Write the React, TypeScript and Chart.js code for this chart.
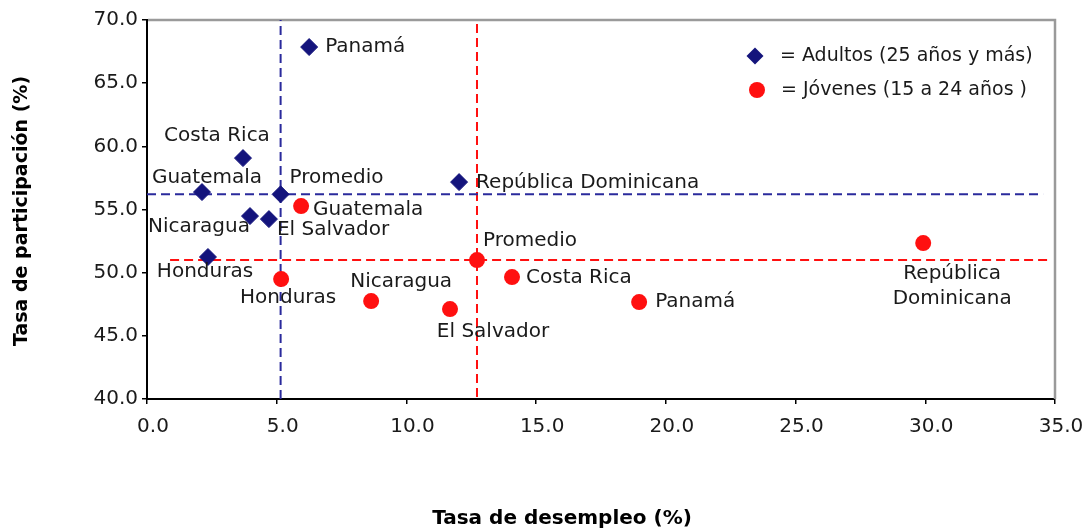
import React, { useEffect, useRef } from 'react';
import { Chart, registerables } from 'chart.js';

Chart.register(...registerables);

// ---------- data ----------
const adultCountries = ['Panamá', 'Costa Rica', 'Guatemala', 'Promedio', 'Nicaragua', 'El Salvador', 'Honduras', 'República Dominicana'];
const adultUnemployment = [6.25, 3.7, 2.12, 5.15, 3.97, 4.7, 2.35, 12.03];
const adultParticipation = [67.86, 59.07, 56.38, 56.2, 54.48, 54.24, 51.24, 57.17];

const youthCountries = ['Guatemala', 'Honduras', 'Nicaragua', 'El Salvador', 'Promedio', 'Costa Rica', 'Panamá', 'República Dominicana'];
const youthUnemployment = [5.94, 5.17, 8.64, 11.68, 12.72, 14.07, 18.97, 29.92];
const youthParticipation = [55.27, 49.49, 47.75, 47.12, 51.0, 49.65, 47.67, 52.34];

const xTicks = [0, 5, 10, 15, 20, 25, 30, 35];
const yTicks = [40, 45, 50, 55, 60, 65, 70];

const adultLegend = '= Adultos (25 años y más)';
const youthLegend = '= Jóvenes (15 a 24 años )';
const xTitle = 'Tasa de desempleo (%)';
const yTitle = 'Tasa de participación (%)';

// extents of the average (Promedio) reference lines
const adultAvgLineX = [0, 34.54];
const youthAvgLineX = [0.89, 34.73];
const adultAvgLineY = [40, 70];
const youthAvgLineY = [40.15, 69.9];

// ---------- label placement (pixel offsets from each point) ----------
type Place = { dx: number; dy: number; align: CanvasTextAlign; wrap?: boolean };
const adultPlace: Place[] = [
  { dx: 16, dy: 0, align: 'left' },
  { dx: -26, dy: -22, align: 'center' },
  { dx: 5, dy: -14, align: 'center' },
  { dx: 9, dy: -17, align: 'left' },
  { dx: -51, dy: 11, align: 'center' },
  { dx: 8, dy: 11, align: 'left' },
  { dx: -3, dy: 15, align: 'center' },
  { dx: 17, dy: 1, align: 'left' },
];
const youthPlace: Place[] = [
  { dx: 12, dy: 4, align: 'left' },
  { dx: 7, dy: 19, align: 'center' },
  { dx: 30, dy: -19, align: 'center' },
  { dx: 43, dy: 23, align: 'center' },
  { dx: 6, dy: -19, align: 'left' },
  { dx: 14, dy: 1, align: 'left' },
  { dx: 16, dy: 0, align: 'left' },
  { dx: 29, dy: 31, align: 'center', wrap: true },
];

const NAVY = '#14147c';
const NAVY_LINE = '#2a2a9c';
const RED = '#ff1010';
const FONT = 'DejaVu Sans';

const adultMean = adultCountries.indexOf('Promedio');
const youthMean = youthCountries.indexOf('Promedio');

export default function App() {
  const ref = useRef<HTMLCanvasElement | null>(null);

  useEffect(() => {
    const canvas = ref.current;
    if (!canvas) return;

    const annotate = {
      id: 'annotate',
      beforeDatasetsDraw(chart: any) {
        const { ctx, chartArea: a } = chart;
        ctx.save();
        ctx.strokeStyle = '#9a9a9a';
        ctx.lineWidth = 2.5;
        ctx.beginPath();
        ctx.moveTo(a.left + 1, a.top);
        ctx.lineTo(a.right, a.top);
        ctx.lineTo(a.right, a.bottom);
        ctx.stroke();
        ctx.restore();
      },
      afterDatasetsDraw(chart: any) {
        const { ctx } = chart;
        const xs = chart.scales.x;
        const ys = chart.scales.y;
        ctx.save();
        ctx.fillStyle = '#1a1a1a';
        ctx.font = `20px "${FONT}"`;
        ctx.textBaseline = 'middle';
        const drawSet = (names: string[], xv: number[], yv: number[], place: Place[]) => {
          names.forEach((n, i) => {
            const px = xs.getPixelForValue(xv[i]);
            const py = ys.getPixelForValue(yv[i]);
            const p = place[i];
            ctx.textAlign = p.align;
            if (p.wrap) {
              n.split(' ').forEach((part, k) => ctx.fillText(part, px + p.dx, py + p.dy + k * 25));
            } else {
              ctx.fillText(n, px + p.dx, py + p.dy);
            }
          });
        };
        drawSet(adultCountries, adultUnemployment, adultParticipation, adultPlace);
        drawSet(youthCountries, youthUnemployment, youthParticipation, youthPlace);

        // legend
        ctx.font = `19px "${FONT}"`;
        ctx.textAlign = 'left';
        const lx = 755, ly1 = 56, ly2 = 90;
        ctx.fillStyle = NAVY;
        ctx.beginPath();
        ctx.moveTo(lx - 8.5, ly1);
        ctx.lineTo(lx, ly1 - 8.5);
        ctx.lineTo(lx + 8.5, ly1);
        ctx.lineTo(lx, ly1 + 8.5);
        ctx.closePath();
        ctx.fill();
        ctx.fillStyle = RED;
        ctx.beginPath();
        ctx.arc(lx + 2, ly2, 8, 0, Math.PI * 2);
        ctx.fill();
        ctx.fillStyle = '#1a1a1a';
        ctx.fillText(adultLegend, 780, ly1);
        ctx.fillText(youthLegend, 781, ly2);
        ctx.restore();
      },
      afterDraw(chart: any) {
        const { ctx } = chart;
        ctx.save();
        ctx.fillStyle = '#000';
        ctx.textAlign = 'center';
        ctx.textBaseline = 'middle';
        ctx.font = `bold 20px "${FONT}"`;
        ctx.fillText(xTitle, 562, 519);
        ctx.font = `bold 19px "${FONT}"`;
        ctx.translate(22, 211);
        ctx.rotate(-Math.PI / 2);
        ctx.fillText(yTitle, 0, 0);
        ctx.restore();
      },
    };

    const dashed = (color: string, data: { x: number; y: number }[]) => ({
      type: 'line' as const,
      data,
      borderColor: color,
      borderWidth: 2,
      borderDash: [9, 5],
      pointRadius: 0,
      showLine: true,
      fill: false,
      order: 10,
    });

    const chart = new Chart(canvas, {
      type: 'scatter',
      data: {
        datasets: [
          {
            label: adultLegend,
            data: adultUnemployment.map((x, i) => ({ x, y: adultParticipation[i] })),
            pointStyle: 'rectRot',
            pointRadius: 8.5,
            backgroundColor: NAVY,
            borderColor: NAVY,
            borderWidth: 1,
            order: 0,
          },
          {
            label: youthLegend,
            data: youthUnemployment.map((x, i) => ({ x, y: youthParticipation[i] })),
            pointStyle: 'circle',
            pointRadius: 8,
            backgroundColor: RED,
            borderColor: RED,
            borderWidth: 0,
            order: 0,
          },
          dashed(NAVY_LINE, adultAvgLineX.map((x) => ({ x, y: adultParticipation[adultMean] }))),
          dashed(NAVY_LINE, adultAvgLineY.map((y) => ({ x: adultUnemployment[adultMean], y }))),
          dashed(RED, youthAvgLineX.map((x) => ({ x, y: youthParticipation[youthMean] }))),
          dashed(RED, youthAvgLineY.map((y) => ({ x: youthUnemployment[youthMean], y }))),
        ] as any,
      },
      options: {
        responsive: false,
        animation: false,
        devicePixelRatio: 1,
        layout: { padding: { left: 0, right: 31, top: 20, bottom: 0 } },
        plugins: { legend: { display: false }, tooltip: { enabled: false } },
        scales: {
          x: {
            type: 'linear',
            position: 'bottom',
            min: 0,
            max: 35,
            afterBuildTicks: (s: any) => { s.ticks = xTicks.map((v) => ({ value: v })); },
            afterFit: (s: any) => { s.height = 132; s.paddingLeft = 0; s.paddingRight = 0; },
            grid: { drawOnChartArea: false, drawTicks: true, tickLength: 5, color: '#000', lineWidth: 1.5 },
            border: { display: true, color: '#000', width: 2 },
            ticks: {
              font: { family: FONT, size: 20 },
              color: '#1a1a1a',
              padding: 11,
              labelOffset: 6,
              maxRotation: 0,
              callback: (v: any) => Number(v).toFixed(1),
            },
          },
          y: {
            type: 'linear',
            min: 40,
            max: 70,
            afterBuildTicks: (s: any) => { s.ticks = yTicks.map((v) => ({ value: v })); },
            afterFit: (s: any) => { s.width = 147; s.paddingTop = 0; s.paddingBottom = 0; },
            grid: { drawOnChartArea: false, drawTicks: true, tickLength: 5, color: '#000', lineWidth: 1.5 },
            border: { display: true, color: '#000', width: 2 },
            ticks: {
              font: { family: FONT, size: 20 },
              color: '#1a1a1a',
              padding: 4,
              callback: (v: any) => Number(v).toFixed(1),
            },
          },
        },
      },
      plugins: [annotate],
    });

    return () => chart.destroy();
  }, []);

  return (
    <div style={{ position: 'absolute', left: 0, top: 0, width: 1086, height: 531 }}>
      <canvas ref={ref} width={1086} height={531} style={{ display: 'block' }} />
    </div>
  );
}
